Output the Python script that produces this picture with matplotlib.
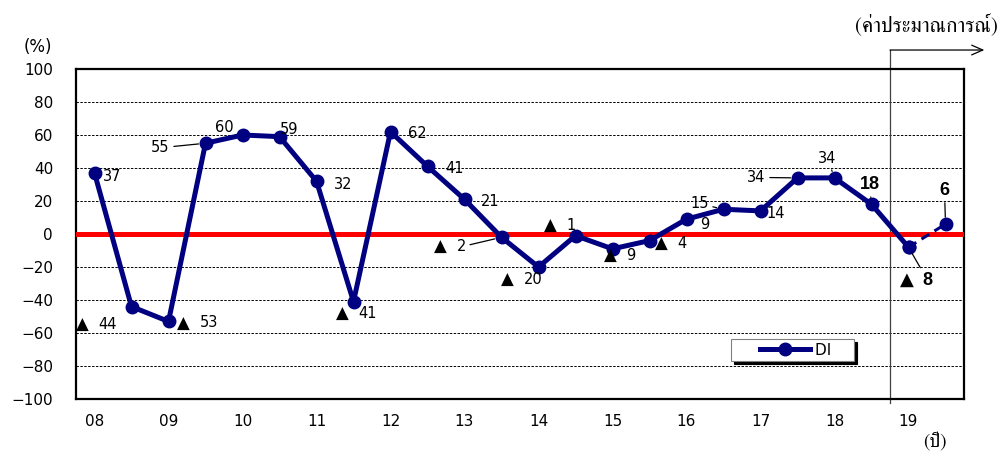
import numpy as np
import matplotlib
matplotlib.use("Agg")
import matplotlib.pyplot as plt
from matplotlib import font_manager
from matplotlib.ft2font import FT2Font
from matplotlib.legend_handler import HandlerLine2D

# data: DI, half-year points 2008-2019 (last one is forecast)
years = ['08', '09', '10', '11', '12', '13', '14', '15', '16', '17', '18', '19']
di = [37, -44, -53, 55, 60, 59, 32, -41, 62, 41, 21, -2,
      -20, -1, -9, -4, 9, 15, 14, 34, 34, 18, -8, 6]
forecast_start = 22

# label offsets in pixels (dx, dy up); for negatives it is where the triangle goes
offsets = [(18, -2), (-49, -16), (15, 0), (-45, -3), (-18, 9), (10, 9),
           (27, -2), (-11, -10), (27, 0), (27, -1), (26, -1), (-61, -8),
           (-31, -11), (-25, 12), (-2, -5), (12, -1), (18, -4), (-24, 7),
           (15, -1), (-41, 2), (-7, 21), (-2, 22), (-2, -31), (-1, 36)]
leaders = [3, 11, 17, 19, 20, 21, 22, 23]
bold = [21, 22, 23]

# find a font that can draw Thai, serif looking ones first
thai_fonts = []
for f in font_manager.fontManager.ttflist:
    try:
        if 0x0E04 in FT2Font(f.fname).get_charmap():
            thai_fonts.append(f.name)
    except Exception:
        pass
thai_fonts.sort(key=lambda n: 0 if ('Serif' in n or 'Norasi' in n or 'Kinnari' in n) else 1)
thai_family = thai_fonts[:1] + ['DejaVu Sans']

plt.rcParams['font.family'] = ['DejaVu Sans']

W, H = 1001, 454
fig = plt.figure(figsize=(W / 100, H / 100), dpi=100)
ax = fig.add_axes([76 / W, 1 - 399 / H, 888 / W, 330 / H])

x = np.arange(len(di))
navy = '#000080'
di_line, = ax.plot(x[:forecast_start + 1], di[:forecast_start + 1], color=navy, lw=3.6,
                   marker='o', ms=9, zorder=4, label='DI    ')
ax.plot(x[forecast_start:], di[forecast_start:], color=navy, lw=2.2, ls=(0, (3, 2)),
        marker='o', ms=9, zorder=4)

ax.axhline(0, color='red', lw=3.6, zorder=3)

ax.set_xlim(-0.5, len(di) - 0.5)
ax.set_ylim(-100, 100)
ax.set_yticks(np.arange(-100, 101, 20))
ax.set_xticks(x[::2])
ax.set_xticklabels(years)
ax.tick_params(axis='both', length=0, labelsize=11)
ax.tick_params(axis='y', pad=16.5)
ax.tick_params(axis='x', pad=11)
for yv in range(-80, 81, 20):
    if yv != 0:
        ax.axhline(yv, color='black', lw=0.7, ls=(0, (2.5, 1.5)), zorder=1)
for s in ax.spines.values():
    s.set_linewidth(1.6)

for i, v in enumerate(di):
    dx, dy = offsets[i]
    if i in bold:
        kw = dict(fontsize=13, fontweight='bold', family=['Liberation Sans', 'DejaVu Sans'])
        tri_size = 13
    else:
        kw = dict(fontsize=10.5)
        tri_size = 12
    arrow = dict(arrowstyle='-', color='black', lw=0.9, shrinkA=1, shrinkB=5) if i in leaders else None
    if v >= 0:
        ax.annotate(str(v), xy=(i, v), xytext=(dx, dy), textcoords='offset pixels',
                    ha='center', va='center_baseline', arrowprops=arrow, zorder=5, **kw)
    else:
        ax.annotate('▲', xy=(i, v), xytext=(dx, dy), textcoords='offset pixels',
                    ha='center', va='center_baseline', fontsize=tri_size, zorder=5)
        ax.annotate(str(abs(v)), xy=(i, v), xytext=(dx + 16, dy), textcoords='offset pixels',
                    ha='left', va='center_baseline', arrowprops=arrow, zorder=5, **kw)

# forecast marker: vertical line with arrow
top_y = 111.5
ax.plot([21.5, 21.5], [-102.5, top_y], color='#404040', lw=0.9, clip_on=False, zorder=2)
ax.annotate('', xy=(24.05, top_y), xytext=(21.5, top_y), annotation_clip=False,
            arrowprops=dict(arrowstyle='->,head_length=0.8,head_width=0.35',
                            color='black', lw=0.9, shrinkA=0, shrinkB=0))

fig.text(998 / W, 1 - 25 / H, '(ค่าประมาณการณ์)', ha='right', va='center',
         fontsize=15, family=thai_family)
fig.text(935 / W, 1 - 441 / H, '(ปี)', ha='center', va='center',
         fontsize=14, family=thai_family)
fig.text(38 / W, 1 - 47 / H, '(%)', ha='center', va='center', fontsize=12)

leg = ax.legend(loc='center', bbox_to_anchor=(0.807, 0.148), fontsize=11,
                fancybox=False, edgecolor='#808080', framealpha=1,
                shadow={'color': 'black', 'alpha': 1}, handlelength=4.95,
                borderpad=0.25, handletextpad=0.3, borderaxespad=0,
                handler_map={di_line: HandlerLine2D(xpad=1.65, numpoints=1)})
leg.get_frame().set_linewidth(0.8)

fig.savefig('out.png', dpi=100)
